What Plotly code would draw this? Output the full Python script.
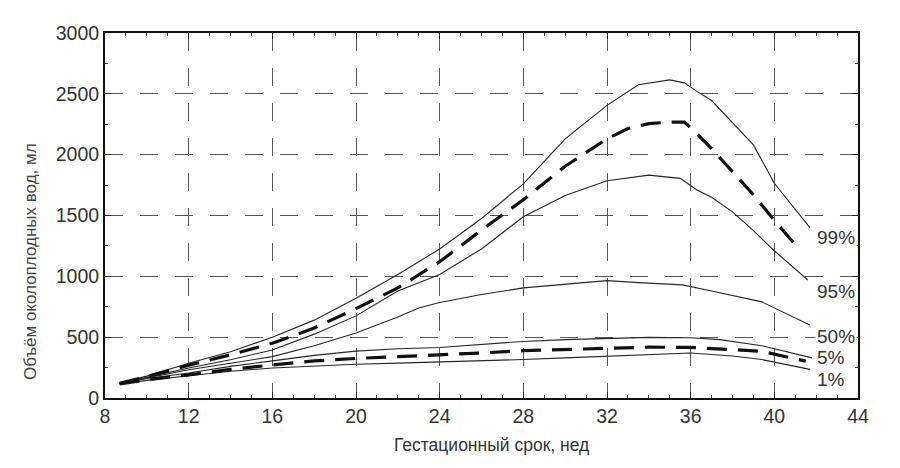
import plotly.graph_objects as go

# ---- data (weeks, ml) ----
p99_x = [8.7, 10, 12, 14, 16, 18, 20, 22, 24, 26, 28, 30, 32, 33.5, 35, 35.7, 36.3, 37, 39, 40, 41.7]
p99_y = [125, 180, 285, 380, 500, 640, 820, 1015, 1225, 1475, 1760, 2130, 2405, 2575, 2615, 2590, 2520, 2445, 2080, 1765, 1400]

mean_hi_x = [8.7, 10, 12, 14, 16, 18, 20, 22, 24, 26, 28, 30, 32, 33, 34, 35, 35.7, 36.2, 37, 38, 39, 40, 41]
mean_hi_y = [120, 175, 270, 355, 450, 575, 735, 905, 1120, 1380, 1630, 1905, 2130, 2215, 2255, 2268, 2268, 2190, 2050, 1860, 1670, 1460, 1260]

p95_x = [8.7, 10, 12, 14, 16, 18, 20, 22, 24, 26, 28, 30, 32, 34, 35.5, 36.3, 37, 38, 39, 40, 41.6]
p95_y = [120, 170, 246, 315, 395, 525, 675, 880, 1015, 1225, 1490, 1665, 1785, 1832, 1805, 1710, 1650, 1530, 1375, 1210, 970]

p50_x = [8.7, 10, 12, 14, 16, 18, 20, 22, 23, 24, 26, 28, 30, 32, 33.5, 35.6, 37, 39.4, 41.7]
p50_y = [120, 165, 232, 285, 340, 430, 535, 665, 740, 785, 850, 905, 935, 965, 948, 930, 880, 790, 600]

p5_x = [8.7, 10, 12, 14, 16, 18, 20, 22, 24, 26, 28, 30, 32, 34, 36, 37.4, 39.4, 41.8]
p5_y = [120, 160, 205, 260, 305, 350, 385, 405, 415, 440, 465, 480, 492, 498, 495, 480, 430, 330]

mean_lo_x = [8.7, 10, 12, 14, 16, 18, 20, 22, 24, 26, 28, 30, 32, 34, 36, 38, 39.4, 41.5]
mean_lo_y = [115, 150, 190, 235, 272, 305, 325, 340, 352, 370, 389, 400, 411, 418, 416, 400, 384, 303]

p1_x = [8.7, 10, 12, 14, 16, 18, 20, 22, 24, 26, 28, 30, 32, 34, 36, 38, 39.4, 41.7]
p1_y = [115, 145, 183, 220, 246, 265, 278, 287, 295, 305, 316, 330, 343, 355, 370, 345, 316, 235]

label_text = ["99%", "95%", "50%", "5%", "1%"]
label_y = [1323, 879, 509, 329, 148]

x_ticks = [8, 12, 16, 20, 24, 28, 32, 36, 40, 44]
y_ticks = [0, 500, 1000, 1500, 2000, 2500, 3000]

FONT = "Liberation Sans, Arial, sans-serif"

fig = go.Figure()

thin = dict(color="#262626", width=1.1)
thick = dict(color="#111111", width=3.2, dash="20px,11px")

for xs, ys, ln in [
    (p99_x, p99_y, thin),
    (p95_x, p95_y, thin),
    (p50_x, p50_y, thin),
    (p5_x, p5_y, thin),
    (p1_x, p1_y, thin),
    (mean_hi_x, mean_hi_y, thick),
    (mean_lo_x, mean_lo_y, thick),
]:
    fig.add_trace(go.Scatter(x=xs, y=ys, mode="lines", line=ln,
                             showlegend=False, hoverinfo="skip"))

for t, yv in zip(label_text, label_y):
    fig.add_annotation(x=41.95, y=yv, xref="x", yref="y", text=t,
                       showarrow=False, xanchor="left", yanchor="middle",
                       font=dict(family=FONT, size=19, color="#333"),
                       bgcolor="white", borderpad=1)

# axis titles (pixel positions converted to paper coords below)
fig.add_annotation(x=491, y=445, xref="paper", yref="paper", text="Гестационный срок, нед",
                   showarrow=False, xanchor="center", yanchor="middle",
                   font=dict(family=FONT, size=17.5, color="#333"))
fig.add_annotation(x=30, y=262, xref="paper", yref="paper", text="Объём околоплодных вод, мл",
                   showarrow=False, textangle=-90, xanchor="center", yanchor="middle",
                   font=dict(family=FONT, size=17, color="#444"))

axis_common = dict(
    showline=True, linecolor="#111", linewidth=2, mirror="ticks",
    ticks="inside", ticklen=6, tickwidth=1, tickcolor="#222",
    showgrid=True, gridcolor="#555", gridwidth=1, griddash="18px,17px",
    zeroline=False,
    tickfont=dict(family=FONT, size=19.5, color="#333"),
)

fig.update_xaxes(
    range=[8, 44], tickvals=x_ticks, ticktext=[str(v) for v in x_ticks],
    minor=dict(dtick=1, tick0=8, ticks="inside", ticklen=3, tickcolor="#444", showgrid=False),
    **axis_common,
)
fig.update_yaxes(
    range=[0, 3000], tickvals=y_ticks, ticktext=[str(v) for v in y_ticks],
    minor=dict(dtick=250, tick0=0, ticks="inside", ticklen=3, tickcolor="#444", showgrid=False),
    **axis_common,
)

fig.update_layout(
    width=900, height=468,
    margin=dict(l=105, r=42, t=33, b=70),
    paper_bgcolor="white", plot_bgcolor="white",
)

pw, ph = 900 - 105 - 42, 468 - 33 - 70
for a in fig.layout.annotations:
    if a.xref == "paper":
        a.x = (a.x - 105) / pw
        a.y = (468 - 70 - a.y) / ph

fig.write_html("out.html")
